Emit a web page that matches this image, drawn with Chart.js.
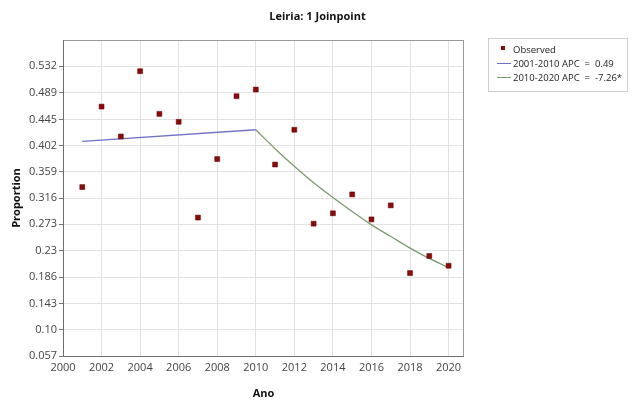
<!DOCTYPE html>
<html>
<head>
<meta charset="utf-8">
<script src="https://cdn.jsdelivr.net/npm/chart.js@4.4.1/dist/chart.umd.min.js"></script>
<style>
  body { margin: 0; background: #fff; font-family: "Open Sans", sans-serif; }
  #wrap { position: relative; width: 635px; height: 400px; }
  #title {
    position: absolute; left: 0; width: 635px; top: 8px; text-align: center;
    font-size: 11px; font-weight: bold; color: #111; line-height: 15px;
  }
  #legend {
    position: absolute; left: 488px; top: 38px; width: 140px; height: 54px;
    border: 1px solid #cfcfcf; box-sizing: border-box; font-size: 9.5px; color: #222;
  }
  #legend .row { position: absolute; left: 0; height: 13px; line-height: 13px; }
  #legend .mark { position: absolute; left: 8px; }
  #legend .txt { position: absolute; left: 24px; white-space: pre; }
</style>
</head>
<body>
<div id="wrap">
  <canvas id="chart" width="635" height="400"></canvas>
  <div id="title">Leiria: 1 Joinpoint</div>
  <div id="legend"></div>
</div>
<script>
// observed proportions by year
const years = [2001, 2002, 2003, 2004, 2005, 2006, 2007, 2008, 2009, 2010,
               2011, 2012, 2013, 2014, 2015, 2016, 2017, 2018, 2019, 2020];
const observed = [0.334, 0.466, 0.417, 0.524, 0.454, 0.441, 0.284, 0.380, 0.483, 0.494,
                  0.371, 0.428, 0.274, 0.291, 0.322, 0.281, 0.304, 0.193, 0.221, 0.205];

// joinpoint fitted segments
const seg1Years = [2001, 2010];
const seg1Values = [0.409, 0.428];
const seg2Years = [2010, 2011, 2012, 2013, 2014, 2015, 2016, 2017, 2018, 2019, 2020];
const seg2Values = [0.428, 0.397, 0.368, 0.341, 0.317, 0.294, 0.272, 0.253, 0.234, 0.217, 0.202];

const seriesLabels = ['Observed', '2001-2010 APC  =  0.49', '2010-2020 APC  =  -7.26*'];

// axis ticks
const yTicks = [0.057, 0.100, 0.143, 0.186, 0.230, 0.273, 0.316, 0.359, 0.402, 0.445, 0.489, 0.532];
const yTickLabels = ['0.057', '0.10', '0.143', '0.186', '0.23', '0.273', '0.316', '0.359', '0.402', '0.445', '0.489', '0.532'];
const xTicks = [2000, 2002, 2004, 2006, 2008, 2010, 2012, 2014, 2016, 2018, 2020];

const colors = { obs: '#8b0a0a', seg1: '#7272c4', seg2: '#7d9a6c' };

const toXY = (xs, ys) => xs.map((x, i) => ({ x: x, y: ys[i] }));

const frame = {
  id: 'frame',
  afterDraw(chart) {
    const a = chart.chartArea, ctx = chart.ctx;
    ctx.save();
    ctx.strokeStyle = '#9a9a9a';
    ctx.lineWidth = 1;
    ctx.strokeRect(a.left + 0.5, a.top + 0.5, a.right - a.left - 1, a.bottom - a.top);
    ctx.strokeStyle = '#6e6e6e';
    ctx.beginPath();
    ctx.moveTo(a.left + 0.5, a.top);
    ctx.lineTo(a.left + 0.5, a.bottom + 0.5);
    ctx.lineTo(a.right, a.bottom + 0.5);
    ctx.stroke();
    ctx.restore();
  }
};

new Chart(document.getElementById('chart'), {
  type: 'scatter',
  data: {
    datasets: [
      {
        label: seriesLabels[1],
        data: toXY(seg1Years, seg1Values),
        showLine: true, borderColor: colors.seg1, borderWidth: 1.3,
        pointRadius: 0, fill: false, order: 2
      },
      {
        label: seriesLabels[2],
        data: toXY(seg2Years, seg2Values),
        showLine: true, borderColor: colors.seg2, borderWidth: 1.3,
        pointRadius: 0, fill: false, tension: 0.4, cubicInterpolationMode: 'monotone', order: 2
      },
      {
        label: seriesLabels[0],
        data: toXY(years, observed),
        pointStyle: 'rect', pointRadius: 3.5,
        backgroundColor: colors.obs, borderColor: '#5a0000', borderWidth: 0.5, order: 1
      }
    ]
  },
  options: {
    responsive: false,
    animation: false,
    layout: { padding: { top: 40, right: 171, bottom: 0, left: 10 } },
    plugins: {
      legend: { display: false },
      tooltip: { enabled: false },
      title: { display: false }
    },
    scales: {
      x: {
        type: 'linear', min: 2000, max: 2020.8,
        afterBuildTicks: s => { s.ticks = xTicks.map(v => ({ value: v })); },
        afterFit: s => { s.height = 44; },
        grid: { color: '#e2e2e2', tickLength: 4, drawTicks: false },
        border: { display: false },
        ticks: {
          color: '#444', font: { family: 'Open Sans', size: 11 }, padding: 5,
          maxRotation: 0, callback: v => String(v)
        },
        title: {
          display: true, text: 'Ano', color: '#111',
          font: { family: 'Open Sans', size: 11, weight: 'bold' }, padding: { top: 4, bottom: 0 }
        }
      },
      y: {
        min: 0.057, max: 0.5752,
        afterBuildTicks: s => { s.ticks = yTicks.map(v => ({ value: v })); },
        afterFit: s => { s.width = 53; },
        grid: { color: '#e2e2e2', tickLength: 4, tickColor: '#777' },
        border: { display: false },
        ticks: {
          color: '#444', font: { family: 'Open Sans', size: 11 }, padding: 2,
          callback: (v) => { const i = yTicks.indexOf(v); return i >= 0 ? yTickLabels[i] : ''; }
        },
        title: {
          display: true, text: 'Proportion', color: '#111',
          font: { family: 'Open Sans', size: 11, weight: 'bold' }, padding: { top: 0, bottom: 2 }
        }
      }
    }
  },
  plugins: [frame]
});

// legend box, same look as the reference
const legend = document.getElementById('legend');
const rows = [
  { top: 4, mark: '<div style="width:4px;height:4px;background:' + colors.obs + ';margin:3px 0 0 4px"></div>' },
  { top: 18, mark: '<div style="width:14px;height:1px;background:' + colors.seg1 + ';margin-top:6px"></div>' },
  { top: 32, mark: '<div style="width:14px;height:1px;background:' + colors.seg2 + ';margin-top:6px"></div>' }
];
rows.forEach((r, i) => {
  const d = document.createElement('div');
  d.className = 'row';
  d.style.top = r.top + 'px';
  d.innerHTML = '<span class="mark">' + r.mark + '</span><span class="txt">' + seriesLabels[i] + '</span>';
  legend.appendChild(d);
});
</script>
</body>
</html>
